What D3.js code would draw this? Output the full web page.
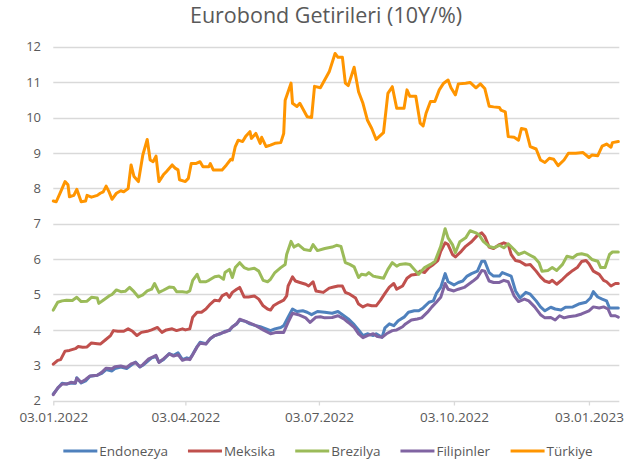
<!DOCTYPE html>
<html>
<head>
<meta charset="utf-8">
<script src="https://cdn.jsdelivr.net/npm/d3@7"></script>
<style>
  body { margin: 0; background: #fff; }
  svg { font-family: "Open Sans", sans-serif; }
</style>
</head>
<body>
<svg id="chart" width="638" height="463"></svg>
<script>
// series names, colours and x tick labels
var seriesNames = ["Endonezya", "Meksika", "Brezilya", "Filipinler", "Türkiye"];
var colors = ["#4F81BD", "#C0504D", "#9BBB59", "#8064A2", "#FF9500"];
var xTickLabels = ["03.01.2022", "03.04.2022", "03.07.2022", "03.10.2022", "03.01.2023"];
var yTicks = [2, 3, 4, 5, 6, 7, 8, 9, 10, 11, 12];

// values: [date, yield %]
var endonezya = [
  ["03.01.2022",2.19],["06.01.2022",2.35],["09.01.2022",2.49],["12.01.2022",2.47],["15.01.2022",2.50],["18.01.2022",2.49],
  ["19.01.2022",2.65],["22.01.2022",2.50],["25.01.2022",2.56],["28.01.2022",2.69],["02.02.2022",2.72],["05.02.2022",2.77],
  ["08.02.2022",2.88],["12.02.2022",2.84],["14.02.2022",2.91],["18.02.2022",2.95],["22.02.2022",2.91],["25.02.2022",3.00],
  ["28.02.2022",3.09],["03.03.2022",2.95],["05.03.2022",3.00],["09.03.2022",3.14],["11.03.2022",3.21],["14.03.2022",3.25],
  ["16.03.2022",3.09],["19.03.2022",3.16],["23.03.2022",3.33],["26.03.2022",3.28],["29.03.2022",3.35],["01.04.2022",3.16],
  ["04.04.2022",3.21],["06.04.2022",3.18],["08.04.2022",3.31],["11.04.2022",3.53],["13.04.2022",3.65],["17.04.2022",3.61],
  ["20.04.2022",3.75],["23.04.2022",3.84],["27.04.2022",3.89],["30.04.2022",3.96],["03.05.2022",3.98],["05.05.2022",4.09],
  ["08.05.2022",4.17],["10.05.2022",4.28],["14.05.2022",4.24],["17.05.2022",4.17],["21.05.2022",4.12],["24.05.2022",4.09],
  ["28.05.2022",4.03],["31.05.2022",3.98],["03.06.2022",4.03],["07.06.2022",4.07],["09.06.2022",4.12],["12.06.2022",4.36],
  ["15.06.2022",4.59],["18.06.2022",4.52],["22.06.2022",4.54],["25.06.2022",4.50],["28.06.2022",4.43],["02.07.2022",4.52],
  ["07.07.2022",4.50],["12.07.2022",4.47],["16.07.2022",4.52],["20.07.2022",4.40],["23.07.2022",4.31],["27.07.2022",4.15],
  ["30.07.2022",4.00],["02.08.2022",3.84],["05.08.2022",3.89],["09.08.2022",3.84],["11.08.2022",3.89],["15.08.2022",3.79],
  ["17.08.2022",4.06],["20.08.2022",4.17],["23.08.2022",4.12],["26.08.2022",4.26],["30.08.2022",4.36],["02.09.2022",4.50],
  ["06.09.2022",4.54],["09.09.2022",4.54],["12.09.2022",4.62],["16.09.2022",4.78],["19.09.2022",4.82],["21.09.2022",5.03],
  ["24.09.2022",5.20],["27.09.2022",5.59],["29.09.2022",5.36],["03.10.2022",5.27],["06.10.2022",5.34],["09.10.2022",5.38],
  ["12.10.2022",5.52],["15.10.2022",5.59],["19.10.2022",5.66],["22.10.2022",5.94],["24.10.2022",5.94],["27.10.2022",5.62],
  ["30.10.2022",5.52],["03.11.2022",5.52],["05.11.2022",5.62],["08.11.2022",5.57],["11.11.2022",5.52],["14.11.2022",5.10],
  ["17.11.2022",4.90],["21.11.2022",5.06],["24.11.2022",5.01],["28.11.2022",4.82],["01.12.2022",4.65],["04.12.2022",4.54],
  ["08.12.2022",4.64],["11.12.2022",4.59],["15.12.2022",4.56],["18.12.2022",4.64],["23.12.2022",4.65],["27.12.2022",4.73],
  ["01.01.2023",4.78],["04.01.2023",4.90],["06.01.2023",5.08],["09.01.2023",4.93],["12.01.2023",4.87],["15.01.2023",4.82],
  ["17.01.2023",4.62],["20.01.2023",4.62],["23.01.2023",4.62]
];

var meksika = [
  ["03.01.2022",3.03],["06.01.2022",3.14],["08.01.2022",3.16],["11.01.2022",3.40],["14.01.2022",3.42],["18.01.2022",3.47],
  ["20.01.2022",3.53],["23.01.2022",3.51],["26.01.2022",3.52],["29.01.2022",3.63],["02.02.2022",3.61],["04.02.2022",3.60],
  ["07.02.2022",3.70],["11.02.2022",3.84],["13.02.2022",3.98],["16.02.2022",3.96],["20.02.2022",3.96],["23.02.2022",4.03],
  ["26.02.2022",3.96],["01.03.2022",3.84],["04.03.2022",3.93],["08.03.2022",3.96],["11.03.2022",4.00],["15.03.2022",4.07],
  ["18.03.2022",3.93],["21.03.2022",4.00],["25.03.2022",4.03],["28.03.2022",3.98],["01.04.2022",4.03],["03.04.2022",4.00],
  ["06.04.2022",4.03],["08.04.2022",4.36],["11.04.2022",4.50],["14.04.2022",4.50],["17.04.2022",4.59],["20.04.2022",4.73],
  ["23.04.2022",4.84],["26.04.2022",4.82],["28.04.2022",4.96],["01.05.2022",5.03],["03.05.2022",4.92],["05.05.2022",5.06],
  ["08.05.2022",5.15],["10.05.2022",5.20],["13.05.2022",4.93],["16.05.2022",4.93],["20.05.2022",4.96],["23.05.2022",4.87],
  ["26.05.2022",4.68],["29.05.2022",4.59],["31.05.2022",4.56],["02.06.2022",4.68],["06.06.2022",4.78],["09.06.2022",4.84],
  ["11.06.2022",4.96],["12.06.2022",5.24],["15.06.2022",5.50],["17.06.2022",5.38],["20.06.2022",5.34],["24.06.2022",5.29],
  ["26.06.2022",5.24],["29.06.2022",5.36],["01.07.2022",5.10],["06.07.2022",5.06],["10.07.2022",5.18],["13.07.2022",5.21],
  ["16.07.2022",5.24],["19.07.2022",5.24],["21.07.2022",5.06],["24.07.2022",5.01],["28.07.2022",4.90],["30.07.2022",4.73],
  ["02.08.2022",4.65],["05.08.2022",4.71],["08.08.2022",4.68],["11.08.2022",4.68],["14.08.2022",4.84],["17.08.2022",5.03],
  ["20.08.2022",5.21],["23.08.2022",5.31],["25.08.2022",5.15],["29.08.2022",5.24],["01.09.2022",5.46],["04.09.2022",5.55],
  ["08.09.2022",5.57],["10.09.2022",5.66],["13.09.2022",5.62],["16.09.2022",5.76],["19.09.2022",5.85],["22.09.2022",5.96],
  ["24.09.2022",6.22],["27.09.2022",6.46],["29.09.2022",6.41],["02.10.2022",6.13],["04.10.2022",6.06],["08.10.2022",6.22],
  ["11.10.2022",6.36],["15.10.2022",6.49],["19.10.2022",6.67],["22.10.2022",6.74],["24.10.2022",6.64],["27.10.2022",6.34],
  ["30.10.2022",6.30],["03.11.2022",6.41],["06.11.2022",6.46],["09.11.2022",6.41],["11.11.2022",6.13],["14.11.2022",5.96],
  ["17.11.2022",5.93],["21.11.2022",5.83],["24.11.2022",5.85],["28.11.2022",5.66],["01.12.2022",5.50],["04.12.2022",5.38],
  ["07.12.2022",5.34],["09.12.2022",5.40],["12.12.2022",5.29],["16.12.2022",5.43],["19.12.2022",5.55],["23.12.2022",5.68],
  ["26.12.2022",5.76],["29.12.2022",5.93],["01.01.2023",5.96],["03.01.2023",5.87],["06.01.2023",5.66],["10.01.2023",5.57],
  ["13.01.2023",5.40],["15.01.2023",5.36],["18.01.2023",5.24],["21.01.2023",5.31],["23.01.2023",5.31]
];

var brezilya = [
  ["03.01.2022",4.56],["06.01.2022",4.78],["09.01.2022",4.82],["12.01.2022",4.84],["16.01.2022",4.83],["19.01.2022",4.92],
  ["22.01.2022",4.80],["26.01.2022",4.81],["29.01.2022",4.92],["02.02.2022",4.90],["03.02.2022",4.75],["06.02.2022",4.84],
  ["10.02.2022",4.96],["12.02.2022",5.00],["15.02.2022",5.13],["18.02.2022",5.08],["21.02.2022",5.09],["24.02.2022",5.20],
  ["27.02.2022",5.08],["02.03.2022",4.93],["05.03.2022",4.99],["08.03.2022",5.10],["11.03.2022",5.15],["13.03.2022",5.31],
  ["16.03.2022",5.06],["19.03.2022",5.12],["23.03.2022",5.21],["26.03.2022",5.20],["28.03.2022",5.08],["01.04.2022",5.08],
  ["04.04.2022",5.06],["06.04.2022",5.10],["08.04.2022",5.40],["11.04.2022",5.57],["13.04.2022",5.36],["17.04.2022",5.36],
  ["19.04.2022",5.40],["23.04.2022",5.50],["26.04.2022",5.52],["29.04.2022",5.43],["30.04.2022",5.62],["03.05.2022",5.71],
  ["05.05.2022",5.48],["07.05.2022",5.76],["10.05.2022",5.90],["13.05.2022",5.76],["16.05.2022",5.71],["20.05.2022",5.74],
  ["23.05.2022",5.66],["26.05.2022",5.40],["29.05.2022",5.36],["31.05.2022",5.43],["03.06.2022",5.62],["07.06.2022",5.76],
  ["10.06.2022",5.85],["11.06.2022",6.13],["14.06.2022",6.50],["16.06.2022",6.34],["19.06.2022",6.41],["23.06.2022",6.27],
  ["27.06.2022",6.24],["29.06.2022",6.41],["02.07.2022",6.24],["07.07.2022",6.30],["12.07.2022",6.34],["15.07.2022",6.39],
  ["18.07.2022",6.36],["21.07.2022",5.90],["24.07.2022",5.85],["27.07.2022",5.78],["30.07.2022",5.48],["01.08.2022",5.57],
  ["04.08.2022",5.55],["06.08.2022",5.62],["09.08.2022",5.52],["11.08.2022",5.50],["16.08.2022",5.46],["19.08.2022",5.71],
  ["22.08.2022",5.90],["25.08.2022",5.80],["27.08.2022",5.85],["31.08.2022",5.87],["03.09.2022",5.85],["07.09.2022",5.66],
  ["09.09.2022",5.57],["13.09.2022",5.76],["17.09.2022",5.85],["20.09.2022",5.93],["24.09.2022",6.36],["27.09.2022",6.86],
  ["29.09.2022",6.60],["02.10.2022",6.41],["04.10.2022",6.18],["07.10.2022",6.49],["11.10.2022",6.60],["14.10.2022",6.80],
  ["18.10.2022",6.74],["20.10.2022",6.69],["23.10.2022",6.50],["27.10.2022",6.36],["30.10.2022",6.32],["03.11.2022",6.39],
  ["06.11.2022",6.32],["09.11.2022",6.43],["13.11.2022",6.27],["16.11.2022",6.13],["20.11.2022",6.20],["23.11.2022",6.13],
  ["27.11.2022",6.04],["30.11.2022",5.90],["02.12.2022",5.66],["06.12.2022",5.68],["09.12.2022",5.76],["12.12.2022",5.68],
  ["16.12.2022",5.85],["19.12.2022",6.08],["23.12.2022",6.04],["26.12.2022",6.13],["29.12.2022",6.15],["02.01.2023",6.11],
  ["05.01.2023",5.99],["09.01.2023",5.94],["11.01.2023",5.76],["14.01.2023",5.76],["17.01.2023",6.13],["19.01.2023",6.20],
  ["23.01.2023",6.20]
];

var filipinler = [
  ["03.01.2022",2.17],["06.01.2022",2.36],["09.01.2022",2.47],["12.01.2022",2.47],["15.01.2022",2.52],["18.01.2022",2.50],
  ["19.01.2022",2.63],["22.01.2022",2.52],["25.01.2022",2.60],["28.01.2022",2.70],["02.02.2022",2.72],["05.02.2022",2.80],
  ["08.02.2022",2.92],["12.02.2022",2.90],["14.02.2022",2.96],["18.02.2022",2.98],["22.02.2022",2.94],["25.02.2022",3.04],
  ["28.02.2022",3.08],["03.03.2022",2.96],["05.03.2022",3.02],["09.03.2022",3.18],["11.03.2022",3.22],["14.03.2022",3.28],
  ["16.03.2022",3.08],["19.03.2022",3.18],["23.03.2022",3.32],["26.03.2022",3.26],["29.03.2022",3.30],["01.04.2022",3.14],
  ["04.04.2022",3.18],["06.04.2022",3.16],["08.04.2022",3.30],["11.04.2022",3.52],["13.04.2022",3.62],["17.04.2022",3.60],
  ["20.04.2022",3.76],["23.04.2022",3.84],["27.04.2022",3.90],["30.04.2022",3.94],["03.05.2022",4.00],["05.05.2022",4.08],
  ["08.05.2022",4.18],["10.05.2022",4.30],["14.05.2022",4.24],["17.05.2022",4.19],["21.05.2022",4.12],["24.05.2022",4.05],
  ["26.05.2022",4.00],["31.05.2022",3.89],["04.06.2022",3.93],["09.06.2022",3.93],["12.06.2022",4.21],["15.06.2022",4.47],
  ["19.06.2022",4.43],["24.06.2022",4.34],["27.06.2022",4.21],["01.07.2022",4.36],["04.07.2022",4.37],["07.07.2022",4.34],
  ["12.07.2022",4.35],["16.07.2022",4.40],["20.07.2022",4.31],["23.07.2022",4.21],["27.07.2022",4.07],["30.07.2022",3.89],
  ["02.08.2022",3.78],["05.08.2022",3.84],["09.08.2022",3.89],["12.08.2022",3.81],["15.08.2022",3.79],["18.08.2022",3.89],
  ["22.08.2022",3.98],["25.08.2022",4.00],["29.08.2022",4.09],["31.08.2022",4.17],["04.09.2022",4.28],["08.09.2022",4.31],
  ["11.09.2022",4.34],["15.09.2022",4.50],["18.09.2022",4.65],["21.09.2022",4.78],["24.09.2022",4.92],["27.09.2022",5.31],
  ["29.09.2022",5.15],["03.10.2022",5.10],["06.10.2022",5.15],["10.10.2022",5.20],["13.10.2022",5.29],["16.10.2022",5.38],
  ["19.10.2022",5.48],["22.10.2022",5.68],["24.10.2022",5.66],["27.10.2022",5.38],["30.10.2022",5.34],["03.11.2022",5.34],
  ["06.11.2022",5.40],["09.11.2022",5.36],["13.11.2022",4.96],["16.11.2022",4.80],["20.11.2022",4.87],["23.11.2022",4.82],
  ["27.11.2022",4.65],["01.12.2022",4.43],["04.12.2022",4.34],["08.12.2022",4.35],["11.12.2022",4.28],["14.12.2022",4.40],
  ["17.12.2022",4.34],["20.12.2022",4.37],["25.12.2022",4.40],["29.12.2022",4.45],["03.01.2023",4.54],["06.01.2023",4.65],
  ["10.01.2023",4.62],["13.01.2023",4.65],["16.01.2023",4.59],["18.01.2023",4.40],["21.01.2023",4.40],["23.01.2023",4.36]
];

var turkiye = [
  ["03.01.2022",7.64],["05.01.2022",7.62],["08.01.2022",7.90],["11.01.2022",8.19],["13.01.2022",8.10],["14.01.2022",7.76],
  ["17.01.2022",7.80],["19.01.2022",7.97],["22.01.2022",7.62],["25.01.2022",7.64],["26.01.2022",7.80],["29.01.2022",7.75],
  ["02.02.2022",7.80],["04.02.2022",7.86],["06.02.2022",7.90],["08.02.2022",8.06],["10.02.2022",7.90],["12.02.2022",7.69],
  ["15.02.2022",7.86],["18.02.2022",7.93],["20.02.2022",7.90],["23.02.2022",7.99],["25.02.2022",8.66],["27.02.2022",8.33],
  ["02.03.2022",8.19],["05.03.2022",8.94],["08.03.2022",9.38],["10.03.2022",8.80],["12.03.2022",8.75],["14.03.2022",8.91],
  ["16.03.2022",8.19],["19.03.2022",8.38],["21.03.2022",8.47],["25.03.2022",8.66],["27.03.2022",8.57],["29.03.2022",8.52],
  ["30.03.2022",8.24],["03.04.2022",8.19],["05.04.2022",8.28],["07.04.2022",8.70],["10.04.2022",8.70],["13.04.2022",8.75],
  ["15.04.2022",8.61],["19.04.2022",8.61],["20.04.2022",8.70],["22.04.2022",8.52],["28.04.2022",8.52],["01.05.2022",8.66],
  ["04.05.2022",8.82],["05.05.2022",8.80],["07.05.2022",9.18],["09.05.2022",9.36],["12.05.2022",9.32],["14.05.2022",9.46],
  ["17.05.2022",9.60],["18.05.2022",9.41],["21.05.2022",9.55],["24.05.2022",9.27],["25.05.2022",9.44],["28.05.2022",9.18],
  ["31.05.2022",9.22],["03.06.2022",9.27],["07.06.2022",9.29],["09.06.2022",9.55],["10.06.2022",10.49],["14.06.2022",10.97],
  ["15.06.2022",10.40],["18.06.2022",10.31],["20.06.2022",10.40],["25.06.2022",10.02],["28.06.2022",10.00],["30.06.2022",10.88],
  ["04.07.2022",10.84],["10.07.2022",11.29],["14.07.2022",11.81],["16.07.2022",11.70],["19.07.2022",11.70],["21.07.2022",10.97],
  ["23.07.2022",10.90],["27.07.2022",11.42],["30.07.2022",10.73],["02.08.2022",10.40],["05.08.2022",9.93],["08.08.2022",9.69],
  ["11.08.2022",9.38],["16.08.2022",9.57],["19.08.2022",10.68],["22.08.2022",10.87],["25.08.2022",10.26],["30.08.2022",10.26],
  ["01.09.2022",10.78],["03.09.2022",10.60],["07.09.2022",10.60],["10.09.2022",9.84],["12.09.2022",9.76],["14.09.2022",10.12],
  ["17.09.2022",10.45],["20.09.2022",10.45],["23.09.2022",10.78],["26.09.2022",10.97],["29.09.2022",11.06],["01.10.2022",10.84],
  ["04.10.2022",10.64],["06.10.2022",10.95],["11.10.2022",10.97],["14.10.2022",10.99],["18.10.2022",10.84],["21.10.2022",10.95],
  ["24.10.2022",10.82],["27.10.2022",10.32],["30.10.2022",10.30],["03.11.2022",10.28],["04.11.2022",10.21],["07.11.2022",10.16],
  ["09.11.2022",9.46],["13.11.2022",9.44],["16.11.2022",9.36],["18.11.2022",9.69],["21.11.2022",9.66],["24.11.2022",9.18],
  ["28.11.2022",9.11],["01.12.2022",8.80],["04.12.2022",8.73],["07.12.2022",8.85],["10.12.2022",8.82],["13.12.2022",8.64],
  ["17.12.2022",8.80],["20.12.2022",8.99],["25.12.2022",8.99],["30.12.2022",9.01],["03.01.2023",8.87],["05.01.2023",8.94],
  ["09.01.2023",8.92],["12.01.2023",9.19],["15.01.2023",9.25],["18.01.2023",9.16],["19.01.2023",9.29],["23.01.2023",9.32]
];

var allSeries = [endonezya, meksika, brezilya, filipinler, turkiye];

var svg = d3.select("#chart"),
    margin = {top: 46.7, right: 20, bottom: 62.3, left: 53.3},
    width = 638 - margin.left - margin.right,
    height = 463 - margin.top - margin.bottom;

var parseDate = d3.timeParse("%d.%m.%Y");

var x = d3.scaleTime()
    .domain([parseDate("03.01.2022"), parseDate("23.01.2023")])
    .range([margin.left, margin.left + 565]);

var y = d3.scaleLinear()
    .domain([2, 12])
    .range([margin.top + height, margin.top]);

var textColor = "#595959";

// title
svg.append("text")
    .attr("x", 326)
    .attr("y", 23)
    .attr("text-anchor", "middle")
    .attr("fill", textColor)
    .style("font-size", "21.5px")
    .text("Eurobond Getirileri (10Y/%)");

// horizontal grid lines
svg.append("g")
    .selectAll("line")
    .data(yTicks.slice(1))
    .enter().append("line")
    .attr("x1", margin.left)
    .attr("x2", margin.left + 566)
    .attr("y1", function (d) { return Math.round(y(d)) + 0.5; })
    .attr("y2", function (d) { return Math.round(y(d)) + 0.5; })
    .attr("stroke", "#d9d9d9")
    .attr("stroke-width", 1.3);

// y axis labels
svg.append("g")
    .selectAll("text")
    .data(yTicks)
    .enter().append("text")
    .attr("x", 41)
    .attr("y", function (d) { return y(d); })
    .attr("dy", "0.36em")
    .attr("text-anchor", "end")
    .attr("fill", textColor)
    .style("font-size", "13px")
    .text(function (d) { return d; });

// x axis
var xAxis = d3.axisBottom(x)
    .tickValues(xTickLabels.map(parseDate))
    .tickFormat(d3.timeFormat("%d.%m.%Y"))
    .tickSize(4)
    .tickSizeOuter(0);

var gx = svg.append("g")
    .attr("transform", "translate(0," + (Math.round(y(2)) + 0.5) + ")")
    .call(xAxis);
gx.select(".domain").attr("stroke", "#d9d9d9").attr("stroke-width", 1.3)
    .attr("d", "M" + margin.left + ",0H" + (margin.left + 566));
gx.selectAll(".tick line").attr("stroke", "#d9d9d9").attr("stroke-width", 1.3);
gx.selectAll(".tick text")
    .attr("fill", textColor)
    .attr("y", 11)
    .style("font-size", "13.5px")
    .style("font-family", "'Open Sans', sans-serif");

// lines
var line = d3.line()
    .x(function (d) { return x(parseDate(d[0])); })
    .y(function (d) { return y(d[1]); });

svg.append("g")
    .selectAll("path")
    .data(allSeries)
    .enter().append("path")
    .attr("d", line)
    .attr("fill", "none")
    .attr("stroke", function (d, i) { return colors[i]; })
    .attr("stroke-width", 3)
    .attr("stroke-linejoin", "round")
    .attr("stroke-linecap", "round");

// legend
var legend = svg.append("g").attr("transform", "translate(0,451)");
var item = legend.selectAll("g")
    .data(seriesNames)
    .enter().append("g");

item.append("line")
    .attr("x1", 0).attr("x2", 34)
    .attr("y1", 0).attr("y2", 0)
    .attr("stroke", function (d, i) { return colors[i]; })
    .attr("stroke-width", 3);

item.append("text")
    .attr("x", 36)
    .attr("dy", "0.36em")
    .attr("fill", textColor)
    .style("font-size", "13.5px")
    .text(function (d) { return d; });

var pos, widths = [];
item.each(function () { widths.push(this.getBBox().width); });
var total = d3.sum(widths) + 20 * (widths.length - 1);
pos = 328 - total / 2;
item.attr("transform", function (d, i) {
    var t = "translate(" + pos + ",0)";
    pos += widths[i] + 20;
    return t;
});
</script>
</body>
</html>
